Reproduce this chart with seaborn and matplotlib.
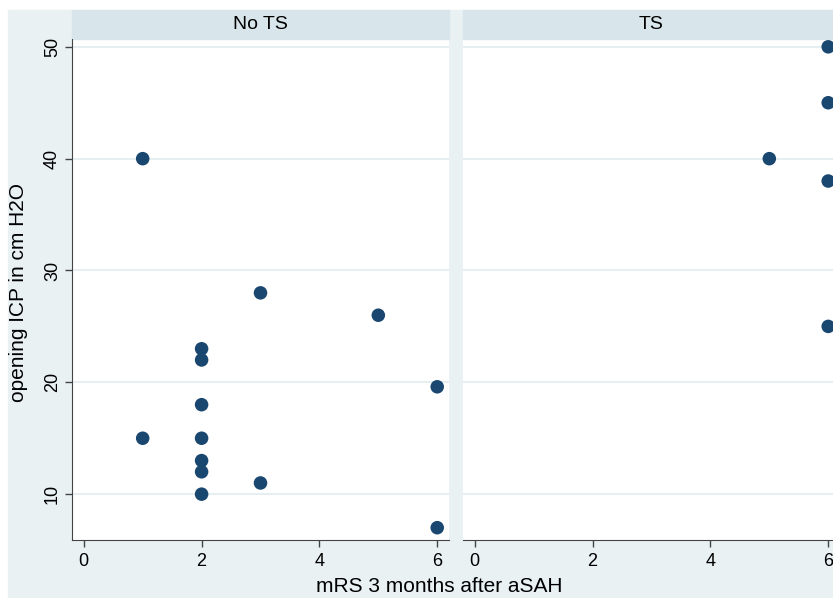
import pandas as pd
import seaborn as sns
import matplotlib.pyplot as plt
from matplotlib.patches import Rectangle

# data
group = ["No TS"] * 14 + ["TS"] * 5
mrs = [1, 1, 2, 2, 2, 2, 2, 2, 2, 3, 3, 5, 6, 6,
       6, 6, 5, 6, 6]
icp = [40, 15, 23, 22, 18, 15, 13, 12, 10, 28, 11, 26, 19.6, 7,
       50, 45, 40, 38, 25]
panels = ["No TS", "TS"]
x_ticks = [0, 2, 4, 6]
y_ticks = [10, 20, 30, 40, 50]

df = pd.DataFrame({"group": group, "mRS": mrs, "ICP": icp})

sns.set_style("white")
plt.rcParams["font.family"] = ["Liberation Sans", "DejaVu Sans"]
plt.rcParams["text.color"] = "black"
plt.rcParams["xtick.labelcolor"] = "black"
plt.rcParams["ytick.labelcolor"] = "black"

bg = "#e9f1f3"
strip = "#d8e5eb"
navy = "#1a476f"
W, H = 833, 598

fig = plt.figure(figsize=(W / 100, H / 100), dpi=100)
fig.patch.set_facecolor("white")
fig.patches.append(Rectangle((8 / W, 0), 1, (H - 10) / H, transform=fig.transFigure,
                             color=bg, zorder=-5))

ax_w, ax_h = 377, 501
lefts = [72, 463]
top = 39
for i, name in enumerate(panels):
    ax = fig.add_axes([lefts[i] / W, (H - top - ax_h) / H, ax_w / W, ax_h / H])
    ax.set_facecolor("white")
    sns.scatterplot(data=df[df["group"] == name], x="mRS", y="ICP", ax=ax,
                    color=navy, s=95, edgecolor="none", zorder=3, clip_on=False)
    ax.set_xlim(-0.2, 6.2)
    ax.set_ylim(5.9, 50.7)
    ax.set_xticks(x_ticks)
    ax.set_yticks(y_ticks)
    ax.grid(axis="y", color="#e3edf0", lw=1.3)
    ax.set_axisbelow(True)
    for s in ["top", "right"]:
        ax.spines[s].set_visible(False)
    ax.spines["bottom"].set_color("#444444")
    ax.spines["left"].set_color("#444444")
    ax.tick_params(axis="x", direction="out", length=5, width=1, color="#444444",
                   labelsize=13, pad=4, bottom=True)
    ax.set_xlabel("")
    ax.set_ylabel("")
    if i == 0:
        ax.tick_params(axis="y", direction="out", length=5, width=1, color="#444444",
                       labelsize=13, pad=3, left=True, labelrotation=90)
        for lab in ax.get_yticklabels():
            lab.set_va("center")
    else:
        ax.spines["left"].set_visible(False)
        ax.tick_params(axis="y", left=False, labelleft=False)
    # facet strip
    sh = 29 / ax_h
    ax.add_patch(Rectangle((0, 1), 1, sh, transform=ax.transAxes, clip_on=False,
                           color=strip, zorder=1))
    ax.text(0.5, 1 + sh / 2, name, transform=ax.transAxes, ha="center", va="center",
            fontsize=14, color="black")

fig.text(19 / W, 1 - 292 / H, "opening ICP in cm H2O", rotation=90,
         ha="center", va="center", fontsize=15)
fig.text(439 / W, 1 - 577 / H, "mRS 3 months after aSAH", ha="center", va="top",
         fontsize=15)

fig.savefig("out.png", dpi=100)
